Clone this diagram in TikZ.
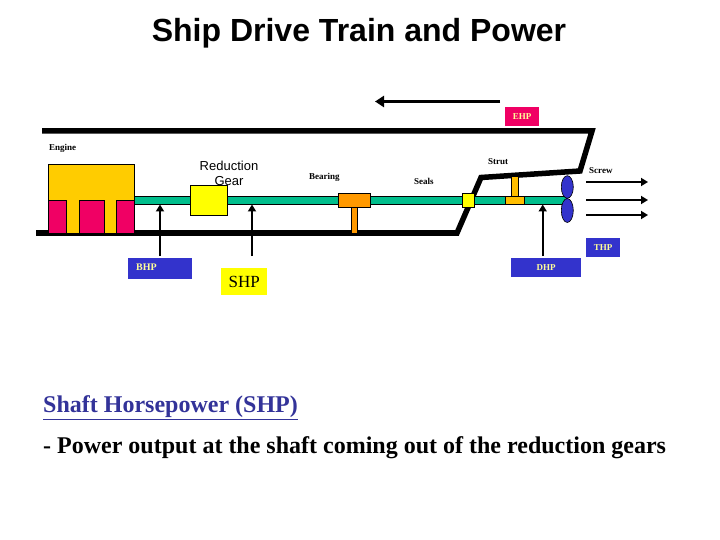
\documentclass[tikz,border=0pt]{standalone}
\usepackage{fontspec}
\setmainfont{Liberation Serif}
\newfontfamily\arialf{Liberation Sans}
\usetikzlibrary{arrows.meta}
\definecolor{shaftc}{RGB}{0,190,140}
\definecolor{enginec}{RGB}{255,204,0}
\definecolor{pinkc}{RGB}{240,0,100}
\definecolor{bluec}{RGB}{51,51,204}
\definecolor{yellowc}{RGB}{255,255,0}
\definecolor{orangec}{RGB}{255,153,0}
\definecolor{strutc}{RGB}{255,190,0}
\definecolor{linkc}{RGB}{51,51,153}
\definecolor{labelc}{RGB}{255,255,153}
\tikzset{
 px/.style={x=1pt,y=-1pt},
 part/.style={draw=black,line width=0.6pt,inner sep=0pt,minimum width=#1},
 hull/.style={line width=5.5pt,line join=miter},
 tiny lbl/.style={font=\bfseries\fontsize{9}{10}\selectfont,inner sep=0pt},
 arrowline/.style={line width=1.8pt,-{Triangle[length=7pt,width=8pt]}},
 tagbox/.style={fill=#1,inner sep=0pt,anchor=north west},
 tagtext/.style={font=\bfseries\fontsize{9}{10}\selectfont,text=labelc,inner sep=0pt},
}
\begin{document}
\begin{tikzpicture}[px]
\useasboundingbox (0,0) rectangle (720,540);
% hull
\coordinate (h1) at (42,131);
\coordinate (h2) at (592,131);
\coordinate (h3) at (580,171);
\coordinate (h4) at (481,177.5);
\coordinate (h5) at (470,203);
\coordinate (h6) at (457,233);
\coordinate (h7) at (36,233);
\draw[hull] (h1) -- (h2) -- (h3) -- (h4) -- (h5) -- (h6) -- (h7);
% shaft
\draw[part,fill=shaftc] (134,196.5) rectangle (566,204.5);
% engine
\draw[part,fill=enginec] (48.3,164) rectangle (134.5,233);
\draw[part,fill=pinkc] (48.3,200) rectangle (66.5,233);
\draw[part,fill=pinkc] (79.3,200) rectangle (104.5,233);
\draw[part,fill=pinkc] (116.5,200) rectangle (134.5,233);
% gear
\node[part,fill=yellowc,minimum width=37.5pt,minimum height=30.5pt] (gear) at (208.7,200.3) {};
% bearing
\draw[part,fill=orangec] (351.5,207.5) rectangle (357,233);
\node[part,fill=orangec,minimum width=32pt,minimum height=14pt] (bearing) at (354,200.5) {};
% seal
\node[part,fill=yellowc,minimum width=12.5pt,minimum height=14.5pt] (seal) at (468.3,200.3) {};
% strut
\draw[part,fill=strutc] (511.7,176) rectangle (518,197);
\node[part,fill=strutc,minimum width=18.6pt,minimum height=7.5pt] (strut) at (515,200.5) {};
% propeller
\draw[part,draw=black,fill=bluec] (567.3,187) ellipse (6pt and 11.3pt);
\draw[part,draw=black,fill=bluec] (567.3,210.5) ellipse (6pt and 12pt);
% tags
\node[tagbox=pinkc,minimum width=34pt,minimum height=19pt,tagtext] (ehp) at (505,107) {EHP};
\node[tagbox=bluec,minimum width=34pt,minimum height=19pt,tagtext] (thp) at (586,238) {THP};
\node[tagbox=bluec,minimum width=70pt,minimum height=19pt,tagtext] (dhp) at (511,258) {DHP};
\node[tagbox=bluec,minimum width=64pt,minimum height=21pt] (bhp) at (128,258) {};
\node[tagtext,anchor=west,font=\bfseries\fontsize{10}{11}\selectfont] at (136,267.5) {BHP};
\node[tagbox=yellowc,minimum width=46pt,minimum height=27pt,font=\fontsize{17}{19}\selectfont,text=black] (shp) at (221,268) {SHP};
% arrows
\coordinate (t1) at (500,101.5); \coordinate (t2) at (375,101.5);
\draw[line width=2.8pt,-{Triangle[length=9pt,width=11pt]}] (t1) -- (t2);
\coordinate (a1) at (160,256); \coordinate (a2) at (160,204.5);
\draw[arrowline] (a1) -- (a2);
\coordinate (b1) at (252,256); \coordinate (b2) at (252,204.5);
\draw[arrowline] (b1) -- (b2);
\coordinate (c1) at (542.7,256); \coordinate (c2) at (542.7,204.5);
\draw[arrowline] (c1) -- (c2);
\coordinate (s1) at (586,182); \coordinate (s2) at (648,182);
\coordinate (s3) at (586,200); \coordinate (s4) at (648,200);
\coordinate (s5) at (586,215); \coordinate (s6) at (648,215);
\draw[arrowline] (s1) -- (s2);
\draw[arrowline] (s3) -- (s4);
\draw[arrowline] (s5) -- (s6);
% small labels
\node[tiny lbl,anchor=west] (engine) at (49,148) {Engine};
\node[tiny lbl,anchor=west] (bearingl) at (309,177) {Bearing};
\node[tiny lbl,anchor=west] (sealsl) at (414,181) {Seals};
\node[tiny lbl,anchor=west] (strutl) at (488,162) {Strut};
\node[tiny lbl,anchor=west] (screwl) at (589,171) {Screw};
\node[font=\arialf\fontsize{13}{15.5}\selectfont,align=center,inner sep=0pt] (rg) at (229,173.5) {Reduction\\Gear};
% title and text
\node[font=\arialf\bfseries\fontsize{32}{36}\selectfont,inner sep=0pt] (title) at (359,33) {Ship Drive Train and Power};
\node[font=\bfseries\fontsize{24}{28}\selectfont,text=linkc,anchor=west,inner sep=0pt] (head) at (43,408) {\underline{Shaft Horsepower (SHP)}};
\node[font=\bfseries\fontsize{24}{28}\selectfont,anchor=west,inner sep=0pt] (desc) at (43,448) {- Power output at the shaft coming out of the reduction gears};
\end{tikzpicture}
\end{document}
